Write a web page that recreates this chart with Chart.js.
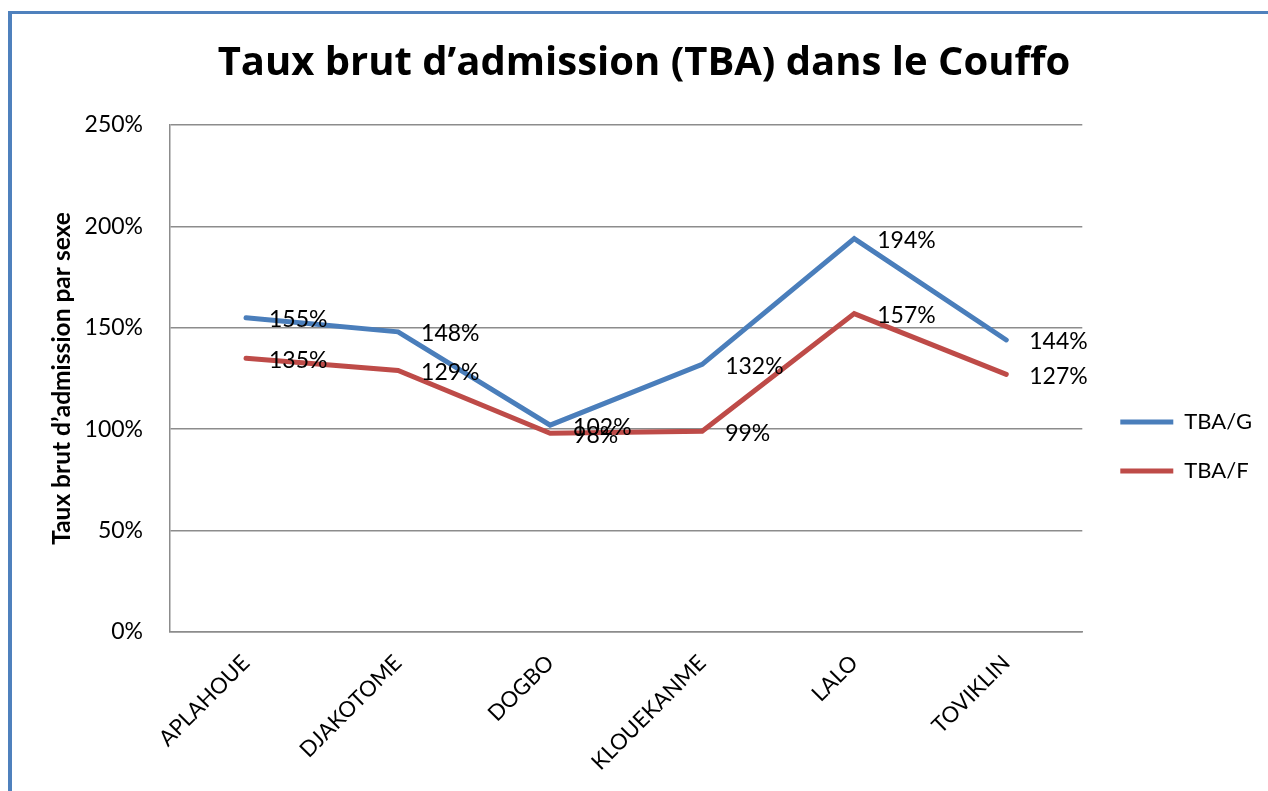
<!DOCTYPE html>
<html>
<head>
<meta charset="utf-8">
<script src="https://cdn.jsdelivr.net/npm/chart.js@4"></script>
<style>
  html, body { margin: 0; padding: 0; background: #ffffff; overflow: hidden; }
  #wrap { position: relative; width: 1268px; height: 791px; }
  #frame {
    position: absolute; left: 8px; top: 11px; right: -10px; bottom: -10px;
    border-left: 4px solid #4F81BD; border-top: 3px solid #4F81BD;
    pointer-events: none;
  }
</style>
</head>
<body>
<div id="wrap">
  <canvas id="tbaChart" width="1268" height="791"></canvas>
  <div id="frame"></div>
</div>
<script>
const communes = ["APLAHOUE", "DJAKOTOME", "DOGBO", "KLOUEKANME", "LALO", "TOVIKLIN"];
const tbaGarcons = [155, 148, 102, 132, 194, 144];
const tbaFilles = [135, 129, 98, 99, 157, 127];
const yTicks = [0, 50, 100, 150, 200, 250];

const police = 'Lato';

// étiquettes de valeur à droite de chaque point
const valueLabels = {
    id: 'valueLabels',
    afterDatasetsDraw(chart) {
        const ctx = chart.ctx;
        ctx.save();
        ctx.font = '23px ' + police;
        ctx.fillStyle = '#000000';
        ctx.textAlign = 'left';
        ctx.textBaseline = 'middle';
        chart.data.datasets.forEach((ds, i) => {
            chart.getDatasetMeta(i).data.forEach((pt, j) => {
                ctx.fillText(ds.data[j] + '%', pt.x + 23, pt.y + 2);
            });
        });
        ctx.restore();
    }
};

const ctx = document.getElementById('tbaChart').getContext('2d');
new Chart(ctx, {
    type: 'line',
    data: {
        labels: communes,
        datasets: [{
            label: 'TBA/G',
            data: tbaGarcons,
            borderColor: '#4A7EBB',
            backgroundColor: '#4A7EBB',
            borderWidth: 5,
            pointRadius: 0,
            tension: 0,
            borderCapStyle: 'round'
        }, {
            label: 'TBA/F',
            data: tbaFilles,
            borderColor: '#BE4B48',
            backgroundColor: '#BE4B48',
            borderWidth: 5,
            pointRadius: 0,
            tension: 0,
            borderCapStyle: 'round'
        }]
    },
    options: {
        responsive: false,
        animation: false,
        layout: {
            padding: { top: 14, left: 26, right: 6, bottom: 0 }
        },
        plugins: {
            title: {
                display: true,
                text: 'Taux brut d’admission (TBA) dans le Couffo',
                color: '#000000',
                font: { family: 'Open Sans', size: 40, weight: 'bold' },
                padding: { top: 26, bottom: 37 }
            },
            legend: {
                position: 'right',
                title: {
                    display: true,
                    text: '',
                    padding: { top: 0, bottom: 73.6 }
                },
                labels: {
                    color: '#000000',
                    font: { family: police, size: 22 },
                    boxWidth: 53,
                    boxHeight: 5,
                    padding: 27,
                    generateLabels(chart) {
                        return Chart.defaults.plugins.legend.labels.generateLabels(chart)
                            .map(item => ({ ...item, fillStyle: item.strokeStyle, lineWidth: 0 }));
                    }
                }
            },
            tooltip: { enabled: false }
        },
        scales: {
            x: {
                offset: true,
                grid: { display: false },
                border: { display: true, color: '#8C8C8C', width: 1.5 },
                ticks: {
                    color: '#000000',
                    font: { family: police, size: 22 },
                    maxRotation: 45,
                    minRotation: 45,
                    autoSkip: false,
                    padding: 10
                },
                afterFit(scale) { scale.height = 159; }
            },
            y: {
                min: 0,
                max: 250,
                afterBuildTicks(scale) {
                    scale.ticks = yTicks.map(v => ({ value: v }));
                },
                grid: { color: '#8C8C8C', lineWidth: 1.5, drawTicks: false },
                border: { display: true, color: '#8C8C8C', width: 1.5 },
                ticks: {
                    color: '#000000',
                    font: { family: police, size: 23 },
                    padding: 27,
                    callback: v => v + '%'
                },
                title: {
                    display: true,
                    text: 'Taux brut d’admission par sexe',
                    color: '#000000',
                    font: { family: police, size: 24.5, weight: 'bold' },
                    padding: { top: 21.3, bottom: 0 }
                },
                afterFit(scale) { scale.width = 144; }
            },
            espace: {
                position: 'right',
                display: true,
                grid: { display: false },
                border: { display: false },
                ticks: { display: false },
                afterFit(scale) { scale.width = 11; }
            }
        }
    },
    plugins: [valueLabels]
});
</script>
</body>
</html>
